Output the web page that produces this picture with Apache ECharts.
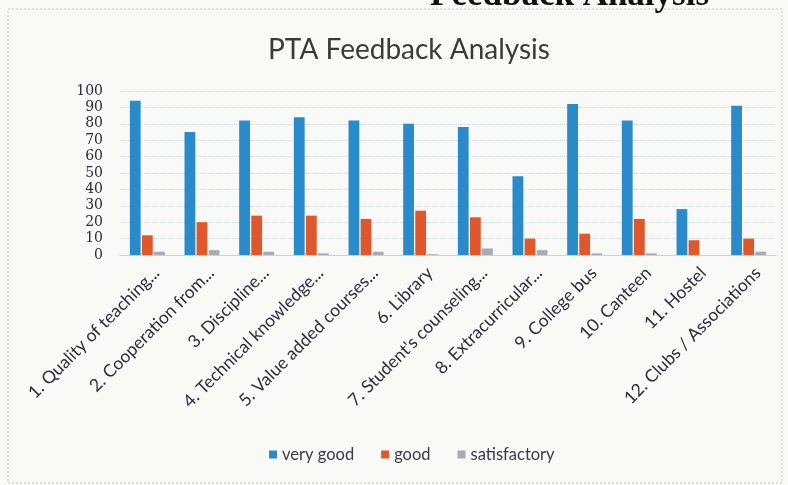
<!DOCTYPE html>
<html><head><meta charset="utf-8">
<script src="https://cdn.jsdelivr.net/npm/echarts@6/dist/echarts.min.js"></script>
<style>html,body{margin:0;padding:0;background:#f9f9f8}#c{width:788px;height:485px}</style>
</head><body><div id="c"></div>
<script>
const categories = ["1. Quality of teaching...","2. Cooperation from...","3. Discipline...","4. Technical knowledge...","5. Value added courses...","6. Library","7. Student's counseling...","8. Extracurricular...","9. College bus","10. Canteen","11. Hostel","12. Clubs / Associations"];
const veryGood = [94, 75, 82, 84, 82, 80, 78, 48, 92, 82, 28, 91];
const good = [12, 20, 24, 24, 22, 27, 23, 10, 13, 22, 9, 10];
const satisfactory = [2, 3, 2, 1, 2, 0.5, 4, 3, 1, 1, 0, 2];
const yTicks = [0, 10, 20, 30, 40, 50, 60, 70, 80, 90, 100];

const chart = echarts.init(document.getElementById('c'));
const font = 'Lato, "Open Sans", sans-serif';
chart.setOption({
  backgroundColor: '#f9f9f8',
  animation: false,
  title: {text: 'PTA Feedback Analysis', left: 263, top: 31,
    textStyle: {fontFamily: font, fontWeight: 'normal', fontSize: 28, color: '#3a3a3a'}},
  legend: {bottom: 17, left: 264, itemWidth: 8, itemHeight: 8, itemGap: 27, icon: 'rect',
    textStyle: {fontFamily: font, fontSize: 16.5, color: '#3a3a4a'},
    data: ['very good', 'good', 'satisfactory']},
  grid: {left: 120, right: 12, top: 91, bottom: 230},
  xAxis: {type: 'category', data: categories,
    axisLine: {show: true, lineStyle: {color: '#d0d0d0'}}, axisTick: {show: false},
    axisLabel: {rotate: 45, interval: 0, fontFamily: font, fontSize: 17.5, color: '#2e2e3a',
      margin: 6, verticalAlign: 'top', padding: [4, 0, 0, 0]}},
  yAxis: {type: 'value', min: yTicks[0], max: yTicks[yTicks.length - 1], interval: 10,
    axisLine: {show: false}, axisTick: {show: false},
    axisLabel: {fontFamily: '"DejaVu Serif", serif', fontSize: 14, lineHeight: 14, color: '#2a2a40', margin: 17,
      showMinLabel: true, showMaxLabel: true},
    splitLine: {lineStyle: {color: '#d4d8e0', type: 'dotted', width: 1}}},
  series: [
    {name: 'very good', type: 'bar', data: veryGood, barGap: '12%', barCategoryGap: '36%',
      itemStyle: {color: '#2a8bcb'}},
    {name: 'good', type: 'bar', data: good, itemStyle: {color: '#e0572c'}},
    {name: 'satisfactory', type: 'bar', data: satisfactory, itemStyle: {color: '#a9abb3'}}
  ],
  graphic: [
    {type: 'rect', shape: {x: 8, y: 9, width: 774, height: 474}, silent: true,
      style: {fill: 'none', stroke: '#c4c4c8', lineWidth: 1, lineDash: [2, 2]}},
    {type: 'text', left: 430, top: -22, silent: true,
      style: {text: 'Feedback Analysis', font: 'bold 35px "Liberation Serif", serif', fill: '#111'}}
  ]
});
</script></body></html>
